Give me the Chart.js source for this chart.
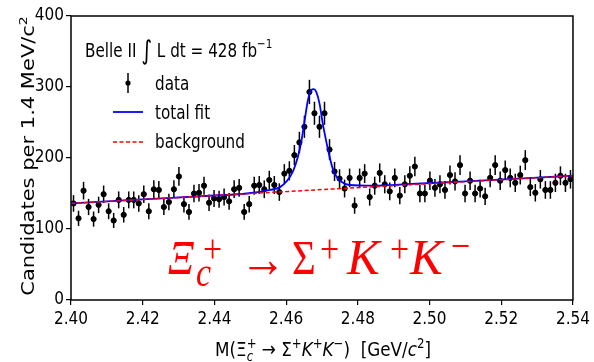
<!DOCTYPE html>
<html>
<head>
<meta charset="utf-8">
<script src="https://cdn.jsdelivr.net/npm/chart.js@4.4.0/dist/chart.umd.min.js"></script>
<style>
  html, body { margin: 0; background: #fff; }
  canvas { display: block; }
</style>
</head>
<body>
<canvas id="chart" width="594" height="362"></canvas>
<script>
// histogram: 100 bins of 1.4 MeV from 2.40 GeV
const binLow = 2.40;
const binWidth = 0.0014;
const counts = [
  136, 115, 154, 131, 114, 134, 149, 125, 112, 141,
  120, 141, 141, 136, 149, 125, 156, 155, 131, 138,
  156, 174, 135, 124, 150, 151, 161, 137, 143, 142,
  145, 139, 156, 158, 124, 135, 161, 162, 156, 169,
  162, 152, 178, 182, 204, 222, 244, 293, 263, 244,
  263, 212, 181, 171, 157, 172, 133, 172, 178, 145,
  161, 179, 163, 153, 172, 147, 163, 175, 188, 150,
  150, 168, 158, 163, 155, 176, 167, 190, 150, 168,
  150, 157, 146, 172, 190, 168, 183, 172, 165, 176,
  197, 159, 151, 170, 155, 155, 165, 175, 165, 170
];

// fit curves
const fitMass = [2.40, 2.42, 2.44, 2.449, 2.4555, 2.4583, 2.4601, 2.4619, 2.4633, 2.4643,
  2.4652, 2.4661, 2.4670, 2.4677, 2.4684, 2.4693, 2.4702, 2.4712, 2.4721, 2.4730,
  2.4739, 2.4753, 2.4776, 2.4845, 2.495, 2.51, 2.54];
const fitTotal = [136, 141.6, 147.2, 150, 155, 159, 167, 181, 202, 225,
  254, 282, 296, 297, 293, 277, 249, 223, 202, 185,
  175, 167, 162, 161, 163.5, 167, 175];
const bkgMass = [2.40, 2.54];
const bkgCounts = [136, 175];

const xTicks = [2.40, 2.42, 2.44, 2.46, 2.48, 2.50, 2.52, 2.54];
const yTicks = [0, 100, 200, 300, 400];

const binCenters = counts.map((_, i) => +(binLow + (i + 0.5) * binWidth).toFixed(5));

const SX = 0.8; // reference text looks squeezed horizontally
const sans = (size, style = "") => `${style} ${size}px 'DejaVu Sans'`.trim();
const serif = (size, style = "") => `${style} ${size}px 'Liberation Serif'`.trim();

// lay out text runs (sub/superscripts), keep = don't advance
function layRuns(ctx, runs) {
  let x = 0, held = 0;
  const out = [];
  for (const r of runs) {
    ctx.font = r.f;
    const w = ctx.measureText(r.t).width;
    out.push({ ...r, x });
    if (r.keep) held = Math.max(held, w);
    else { x += Math.max(w, held); held = 0; }
  }
  return { out, width: x };
}

function drawRuns(ctx, runs, x, y, opts = {}) {
  const { out, width } = layRuns(ctx, runs);
  ctx.save();
  ctx.translate(x, y);
  ctx.scale(opts.sx || SX, 1);
  if (opts.rotate) ctx.rotate(opts.rotate);
  ctx.fillStyle = opts.color || "#000";
  ctx.textAlign = "left";
  ctx.textBaseline = "alphabetic";
  const x0 = opts.center ? -width / 2 : 0;
  for (const r of out) {
    ctx.font = r.f;
    ctx.fillText(r.t, x0 + r.x, r.dy || 0);
  }
  ctx.restore();
}

const errorBars = {
  id: "errorBars",
  beforeDatasetsDraw(chart) {
    const { ctx, scales: { x, y } } = chart;
    ctx.save();
    ctx.strokeStyle = "#000";
    ctx.lineWidth = 1.5;
    counts.forEach((n, i) => {
      const px = x.getPixelForValue(binCenters[i]);
      const e = Math.sqrt(n);
      ctx.beginPath();
      ctx.moveTo(px, y.getPixelForValue(n - e));
      ctx.lineTo(px, y.getPixelForValue(n + e));
      ctx.stroke();
    });
    ctx.restore();
  }
};

const decorations = {
  id: "decorations",
  afterDraw(chart) {
    const { ctx, chartArea: a } = chart;
    // frame
    ctx.save();
    ctx.strokeStyle = "#000";
    ctx.lineWidth = 1.5;
    ctx.strokeRect(a.left, a.top, a.right - a.left, a.bottom - a.top);
    ctx.restore();

    // axis titles
    const sub = { f: sans(14, "italic"), dy: 5, keep: true };
    const sup = (t) => ({ t, f: sans(14), dy: -8 });
    drawRuns(ctx, [
      { t: "M(Ξ", f: sans(20) }, { t: "c", ...sub }, sup("+"),
      { t: " → Σ", f: sans(20) }, sup("+"),
      { t: "K", f: sans(20, "italic") }, sup("+"),
      { t: "K", f: sans(20, "italic") }, sup("−"),
      { t: ")  [GeV/", f: sans(20) }, { t: "c", f: sans(20, "italic") }, sup("2"),
      { t: "]", f: sans(20) }
    ], 323, 356, { center: true, sx: 0.84 });

    drawRuns(ctx, [
      { t: "Candidates per 1.4 MeV/c", f: sans(21) }, { t: "2", f: sans(14), dy: -9 }
    ], 34, (a.top + a.bottom) / 2 - 2, { center: true, rotate: -Math.PI / 2 });

    // legend
    drawRuns(ctx, [
      { t: "Belle II ", f: sans(19) }, { t: "∫", f: sans(26), dy: 2 },
      { t: " L dt = 428 fb", f: sans(19) }, { t: "−1", f: sans(13), dy: -9 }
    ], 85, 57);

    ctx.save();
    ctx.strokeStyle = "#000";
    ctx.fillStyle = "#000";
    ctx.lineWidth = 1.5;
    ctx.beginPath(); ctx.moveTo(128, 73); ctx.lineTo(128, 93); ctx.stroke();
    ctx.beginPath(); ctx.arc(128, 83, 2.6, 0, Math.PI * 2); ctx.fill();
    ctx.strokeStyle = "#0000ff";
    ctx.lineWidth = 1.8;
    ctx.beginPath(); ctx.moveTo(113, 112); ctx.lineTo(143, 112); ctx.stroke();
    ctx.strokeStyle = "#ff0000";
    ctx.lineWidth = 1.5;
    ctx.setLineDash([4, 2.5]);
    ctx.beginPath(); ctx.moveTo(113, 142); ctx.lineTo(143, 142); ctx.stroke();
    ctx.restore();
    drawRuns(ctx, [{ t: "data", f: sans(19) }], 155, 90);
    drawRuns(ctx, [{ t: "total fit", f: sans(19) }], 155, 119);
    drawRuns(ctx, [{ t: "background", f: sans(19) }], 155, 148);

    // decay label
    const red = { color: "#ff0000", sx: 0.85 };
    const redK = { color: "#ff0000", sx: 0.98 };
    drawRuns(ctx, [{ t: "Ξ", f: serif(48, "italic") }], 168, 274, red);
    drawRuns(ctx, [{ t: "c", f: serif(40, "italic") }], 196, 286, red);
    drawRuns(ctx, [{ t: "+", f: serif(40) }], 203, 262, red);
    drawRuns(ctx, [{ t: "→", f: serif(54) }], 240, 277, red);
    drawRuns(ctx, [{ t: "Σ", f: serif(48) }], 292, 274, red);
    drawRuns(ctx, [{ t: "+", f: serif(40) }], 320, 262, red);
    drawRuns(ctx, [{ t: "K", f: serif(50, "italic") }], 347, 274, redK);
    drawRuns(ctx, [{ t: "+", f: serif(40) }], 390, 262, red);
    drawRuns(ctx, [{ t: "K", f: serif(50, "italic") }], 410, 274, redK);
    drawRuns(ctx, [{ t: "−", f: serif(40) }], 451, 259, red);
  }
};

const tickFont = { family: "'DejaVu Sans Condensed', 'DejaVu Sans'", size: 17 };

new Chart(document.getElementById("chart"), {
  type: "scatter",
  data: {
    datasets: [
      {
        label: "data",
        data: binCenters.map((m, i) => ({ x: m, y: counts[i] })),
        backgroundColor: "#000",
        borderColor: "#000",
        pointRadius: 2.6,
        order: 3
      },
      {
        label: "total fit",
        data: fitMass.map((m, i) => ({ x: m, y: fitTotal[i] })),
        showLine: true,
        borderColor: "#0000ff",
        borderWidth: 1.8,
        pointRadius: 0,
        cubicInterpolationMode: "monotone",
        order: 2
      },
      {
        label: "background",
        data: bkgMass.map((m, i) => ({ x: m, y: bkgCounts[i] })),
        showLine: true,
        borderColor: "#ff0000",
        borderWidth: 1.5,
        borderDash: [4, 2.5],
        pointRadius: 0,
        order: 1
      }
    ]
  },
  options: {
    responsive: false,
    animation: false,
    layout: { padding: { top: 16, right: 16, left: 0, bottom: 0 } },
    plugins: { legend: { display: false }, tooltip: { enabled: false } },
    scales: {
      x: {
        type: "linear",
        min: 2.40,
        max: 2.54,
        afterBuildTicks: (s) => { s.ticks = xTicks.map((v) => ({ value: v })); },
        afterFit: (s) => { s.height = 62; },
        ticks: { color: "#000", font: tickFont, padding: 4, maxRotation: 0,
          callback: (v) => v.toFixed(2) },
        grid: { drawOnChartArea: false, tickLength: 5, color: "#000", lineWidth: 1.2 },
        border: { display: false }
      },
      y: {
        min: 0,
        max: 400,
        afterBuildTicks: (s) => { s.ticks = yTicks.map((v) => ({ value: v })); },
        afterFit: (s) => { s.width = 71; },
        ticks: { color: "#000", font: tickFont, padding: 2 },
        grid: { drawOnChartArea: false, tickLength: 5, color: "#000", lineWidth: 1.2 },
        border: { display: false }
      }
    }
  },
  plugins: [errorBars, decorations]
});
</script>
</body>
</html>
